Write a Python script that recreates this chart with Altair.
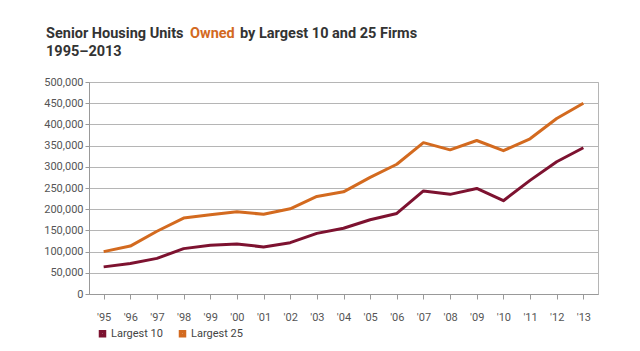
import altair as alt
import pandas as pd

years = ["'95", "'96", "'97", "'98", "'99", "'00", "'01", "'02", "'03", "'04",
         "'05", "'06", "'07", "'08", "'09", "'10", "'11", "'12", "'13"]
largest10 = [64000, 72000, 84000, 107000, 115000, 118000, 111000, 121000, 143000, 155000,
             175000, 190000, 243000, 235000, 249000, 220000, 268000, 312000, 345000]
largest25 = [100000, 113000, 148000, 179000, 187000, 194000, 188000, 201000, 230000, 241000,
             275000, 306000, 357000, 340000, 362000, 338000, 366000, 414000, 450000]
series = ["Largest 10", "Largest 25"]
colors = ["#7d1230", "#d36a1f"]

rows = []
for i, y in enumerate(years):
    rows.append({"year": y, "series": series[0], "units": largest10[i], "order": i})
    rows.append({"year": y, "series": series[1], "units": largest25[i], "order": i})
df = pd.DataFrame(rows)

FONT = "Roboto"

lines = alt.Chart(df).mark_line(strokeWidth=3, strokeJoin="round").encode(
    x=alt.X("year:O", sort=years, title=None,
            scale=alt.Scale(type="point", padding=0.55),
            axis=alt.Axis(labelAngle=0, labelFontSize=11, labelColor="#555555",
                          labelFont=FONT, tickColor="#999999", tickSize=5,
                          domainColor="#999999", labelPadding=12, grid=False)),
    y=alt.Y("units:Q", title=None,
            scale=alt.Scale(domain=[0, 500000], nice=False),
            axis=alt.Axis(values=list(range(0, 500001, 50000)), format=",.0f",
                          labelFontSize=11, labelColor="#555555", labelFont=FONT,
                          tickColor="#999999", tickSize=4, domainColor="#999999",
                          gridColor="#b5b5b5", gridWidth=1, labelPadding=2)),
    color=alt.Color("series:N", title=None,
                    scale=alt.Scale(domain=series, range=colors),
                    legend=alt.Legend(orient="none", legendX=8, legendY=246,
                                      direction="horizontal", symbolType="square",
                                      symbolSize=16, symbolStrokeWidth=3.5,
                                      labelFontSize=11, labelColor="#444444",
                                      labelFont=FONT, columnPadding=10,
                                      labelOffset=3)),
    order="order:Q",
)

title_df = pd.DataFrame({"t": ["x"]})
def ttext(txt, x, y, color):
    return alt.Chart(title_df).mark_text(align="left", baseline="alphabetic", fontSize=14.5,
                                         fontWeight="bold", font=FONT, color=color).encode(
        x=alt.value(x), y=alt.value(y), text=alt.value(txt))

t1 = ttext("Senior Housing Units", -43, -44, "#333333")
t2 = ttext("Owned", 101, -44, "#d36a1f")
t3 = ttext("by Largest 10 and 25 Firms", 151, -44, "#333333")
t4 = ttext("1995–2013", -43, -26, "#333333")

chart = alt.layer(lines, t1, t2, t3, t4).properties(
    width=509, height=212,
    autosize=alt.AutoSizeParams(type="none"),
    padding={"left": 89, "top": 82, "right": 42, "bottom": 57},
    background="white",
).configure_view(stroke="#b5b5b5", strokeWidth=1)

chart.save("out.html", embed_options={"renderer": "svg", "actions": False})
